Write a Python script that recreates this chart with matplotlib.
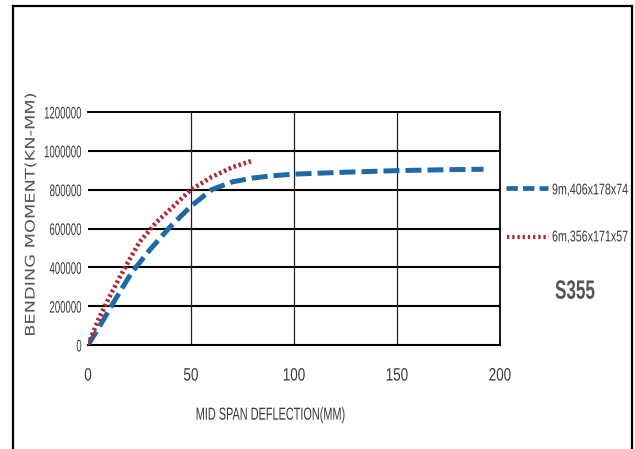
import matplotlib
matplotlib.use("Agg")
import matplotlib.pyplot as plt
from matplotlib.lines import Line2D
from matplotlib.patheffects import AbstractPathEffect
from matplotlib.transforms import Affine2D

# Data
blue_x = [0, 5, 13, 21, 30, 40, 50, 60, 70, 80, 90, 100, 125, 150, 175, 192]
blue_y = [0, 85000, 230000, 370000, 490000, 610000, 715000, 800000, 840000,
          860000, 872000, 880000, 890000, 898000, 903000, 905000]
red_x = [0, 5, 10, 18, 25, 33, 43, 50, 60, 70, 80]
red_y = [0, 130000, 240000, 400000, 530000, 630000, 730000, 800000, 865000,
         915000, 950000]
labels = ["9m,406x178x74", "6m,356x171x57"]
xticks = [0, 50, 100, 150, 200]
yticks = [0, 200000, 400000, 600000, 800000, 1000000, 1200000]

BLUE = "#1f6aa5"
RED = "#b2262b"
NARROW = "Liberation Sans"


class Stretch(AbstractPathEffect):
    """Scale glyphs in their own frame (keeps text as real text)."""
    def __init__(self, sx=1.0, sy=1.0, vpivot="center"):
        super().__init__()
        self.sx, self.sy, self.vpivot = sx, sy, vpivot

    def draw_path(self, renderer, gc, tpath, affine, rgbFace=None):
        ext = tpath.get_extents()
        px = (ext.x0 + ext.x1) / 2
        if self.vpivot == "top":
            py = ext.y1
        elif self.vpivot == "bottom":
            py = ext.y0
        else:
            py = (ext.y0 + ext.y1) / 2
        t = (Affine2D().translate(-px, -py).scale(self.sx, self.sy)
             .translate(px, py) + affine)
        renderer.draw_path(gc, tpath, t, rgbFace)


fig = plt.figure(figsize=(6.35, 4.49), dpi=100)
ax = fig.add_axes([88/635, 1-345/449, 412/635, 233/449])

ax.plot(blue_x, blue_y, color=BLUE, lw=3.6, dashes=(3.2, 1.2),
        dash_capstyle="butt", zorder=3)
ax.plot(red_x, red_y, color=RED, lw=3.3, dashes=(0.55, 0.6),
        dash_capstyle="butt", zorder=3)

ax.set_xlim(0, 200)
ax.set_ylim(0, 1200000)
ax.set_xticks(xticks)
ax.set_yticks(yticks)
ax.set_xticklabels([str(v) for v in xticks], family=NARROW, fontsize=9.7, color="#3a3a3a")
ax.set_yticklabels([str(v) for v in yticks], family=NARROW, fontsize=6.9, color="#3a3a3a")
ax.tick_params(axis="both", length=0)
ax.tick_params(axis="x", pad=18)
ax.tick_params(axis="y", pad=4.5)
for lbl in ax.get_yticklabels():
    lbl.set_path_effects([Stretch(sy=1.75, vpivot="center")])
for lbl in ax.get_xticklabels():
    lbl.set_path_effects([Stretch(sy=1.33, vpivot="center")])

for v in yticks[1:-1]:
    ax.axhline(v, color="black", lw=1.5, zorder=1)
for v in xticks[1:-1]:
    ax.axvline(v, color="#222222", lw=0.9, zorder=1)
ax.spines["left"].set_visible(False)
ax.spines["top"].set_linewidth(1.4)
ax.spines["bottom"].set_linewidth(1.5)
ax.spines["right"].set_linewidth(1.3)

xl = fig.text(270/635, 1-415/449, "MID SPAN DEFLECTION(MM)", family=NARROW, fontsize=7.85,
              color="#3a3a3a", ha="center", va="center")
xl.set_path_effects([Stretch(sy=1.6)])
yl = fig.text(31/635, 1-215/449, "BENDING MOMENT(KN-MM)", rotation=90, ha="center",
              va="center", fontsize=12.8, color="#555555", family="DejaVu Sans")
yl.set_path_effects([Stretch(sy=0.75)])

# Legend (drawn outside the axes)
fig.add_artist(Line2D([506/635, 548/635], [1-188/449, 1-188/449], color=BLUE, lw=3.4,
                      dashes=(2.4, 1.1), dash_capstyle="butt"))
t1 = fig.text(552/635, 1-190/449, labels[0], family=NARROW, fontsize=7.7, color="#3a3a3a",
              va="center", ha="left")
fig.add_artist(Line2D([507/635, 549/635], [1-237/449, 1-237/449], color=RED, lw=3.0,
                      dashes=(0.55, 0.7), dash_capstyle="butt"))
t2 = fig.text(552/635, 1-237/449, labels[1], family=NARROW, fontsize=7.7, color="#3a3a3a",
              va="center", ha="left")
for t in (t1, t2):
    t.set_path_effects([Stretch(sy=1.45)])
s = fig.text(555/635, 1-291/449, "S355", family=NARROW, fontsize=12.3, fontweight="bold",
             color="#555555", va="center", ha="left")
s.set_path_effects([Stretch(sy=1.55)])

# Outer frame
fig.add_artist(Line2D([13/635, 13/635], [0, 1-6/449], color="black", lw=1.6))
fig.add_artist(Line2D([13/635, 632/635], [1-6/449, 1-6/449], color="black", lw=1.6))
fig.add_artist(Line2D([632/635, 632/635], [0, 1-6/449], color="black", lw=1.6))

fig.savefig("out.png", dpi=100)
